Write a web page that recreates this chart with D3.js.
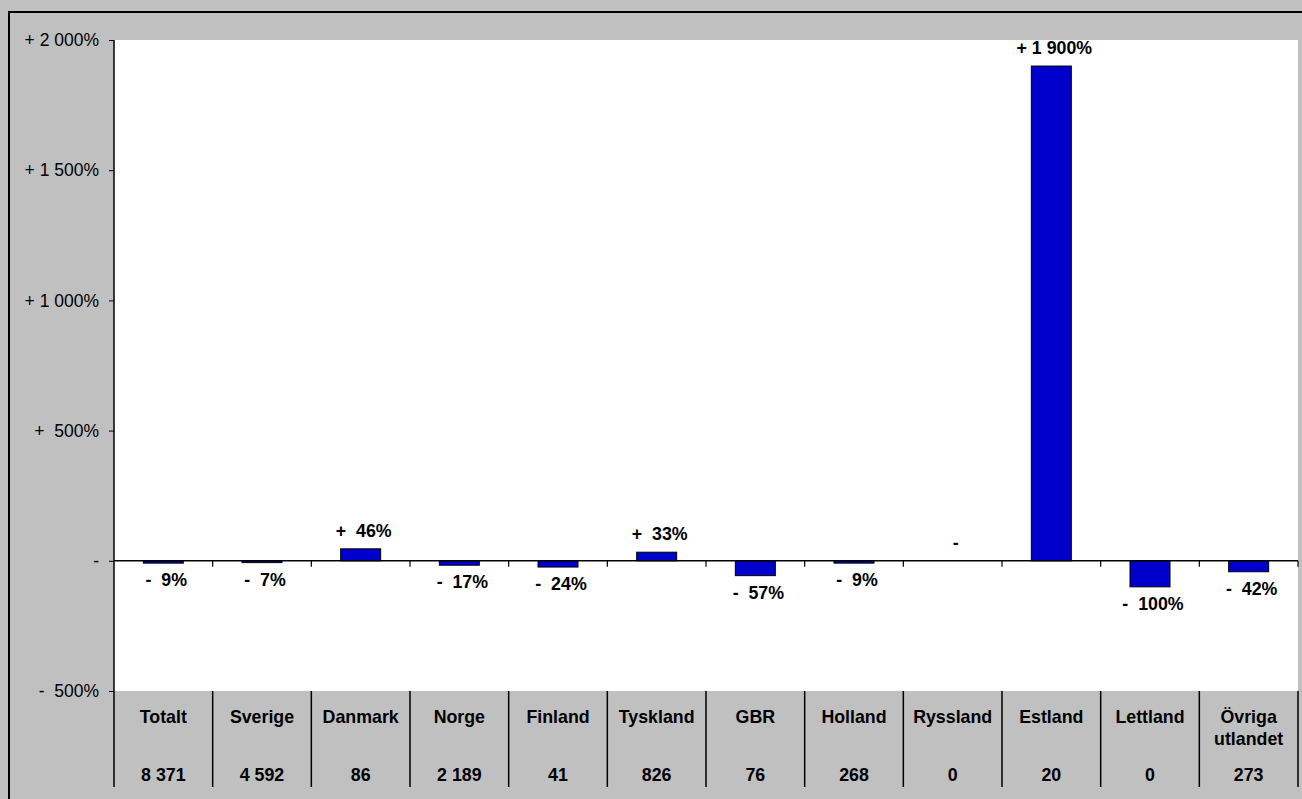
<!DOCTYPE html>
<html>
<head>
<meta charset="utf-8">
<script src="https://cdn.jsdelivr.net/npm/d3@7"></script>
<style>
  html, body { margin: 0; padding: 0; background: #c0c0c0; }
  svg { display: block; }
  text { font-family: Arial, "Liberation Sans", sans-serif; white-space: pre; }
</style>
</head>
<body>
<svg id="chart" width="1302" height="799"></svg>
<script>
// ---- data ----
const categories = ["Totalt", "Sverige", "Danmark", "Norge", "Finland", "Tyskland", "GBR", "Holland", "Ryssland", "Estland", "Lettland", "Övriga utlandet"];
const changePct = [-9, -7, 46, -17, -24, 33, -57, -9, 0, 1900, -100, -42];
const counts = ["8 371", "4 592", "86", "2 189", "41", "826", "76", "268", "0", "20", "0", "273"];
const yTickValues = [-500, 0, 500, 1000, 1500, 2000];
const yTickLabels = ["-  500%", "-", "+  500%", "+ 1 000%", "+ 1 500%", "+ 2 000%"];

// ---- layout ----
const W = 1302, H = 799;
const plot = { left: 114, right: 1298, top: 40, bottom: 691 };
const tableBottom = 787;
const boldSize = 17.8, tickSize = 17.5;

const svg = d3.select("#chart");

svg.append("rect").attr("x", 0).attr("y", 0).attr("width", W).attr("height", H).attr("fill", "#c0c0c0");
// outer frame
svg.append("line").attr("x1", 9).attr("x2", 9).attr("y1", 11).attr("y2", H).attr("stroke", "#000").attr("stroke-width", 2);
svg.append("line").attr("x1", 8).attr("x2", W).attr("y1", 12).attr("y2", 12).attr("stroke", "#000").attr("stroke-width", 2);

// plot area
svg.append("rect").attr("x", plot.left).attr("y", plot.top)
  .attr("width", plot.right - plot.left).attr("height", plot.bottom - plot.top).attr("fill", "#fff");

const x = d3.scaleBand().domain(categories).range([plot.left, plot.right]).padding(0);
const y = d3.scaleLinear().domain([-500, 2000]).range([plot.bottom, plot.top]);
const barW = 40;

// y axis
const yAxis = d3.axisLeft(y)
  .tickValues(yTickValues)
  .tickSize(5)
  .tickPadding(10)
  .tickFormat((d, i) => yTickLabels[i]);
const gy = svg.append("g").attr("transform", `translate(${plot.left},0)`).call(yAxis);
gy.select(".domain").remove();
gy.selectAll(".tick line").attr("stroke", "#000");
gy.selectAll(".tick text").attr("font-size", tickSize).attr("fill", "#000")
  .attr("font-family", "Arial, 'Liberation Sans', sans-serif");

// bars
svg.append("g").selectAll("rect").data(categories).join("rect")
  .attr("x", d => x(d) + x.bandwidth() / 2 - barW / 2)
  .attr("width", barW)
  .attr("y", (d, i) => y(Math.max(0, changePct[i])))
  .attr("height", (d, i) => Math.abs(y(changePct[i]) - y(0)))
  .attr("fill", "#0000cc")
  .attr("stroke", "#000")
  .attr("stroke-width", 1);

// zero line
svg.append("line").attr("x1", plot.left).attr("x2", plot.right)
  .attr("y1", y(0)).attr("y2", y(0)).attr("stroke", "#000").attr("stroke-width", 1.5);

// category boundary positions
const bounds = categories.map(c => x(c)).concat([plot.right]);
// ticks on zero line
svg.append("g").selectAll("line").data(bounds.slice(1)).join("line")
  .attr("x1", d => d).attr("x2", d => d)
  .attr("y1", y(0)).attr("y2", y(0) + 6)
  .attr("stroke", "#000").attr("stroke-width", 1.2);
// table separators
svg.append("g").selectAll("line").data(bounds.slice(1)).join("line")
  .attr("x1", d => d).attr("x2", d => d)
  .attr("y1", plot.bottom).attr("y2", tableBottom)
  .attr("stroke", "#000").attr("stroke-width", 1.5);
// y axis line
svg.append("line").attr("x1", plot.left).attr("x2", plot.left)
  .attr("y1", plot.top).attr("y2", tableBottom).attr("stroke", "#000").attr("stroke-width", 1.5);

// label formatter
function fmt(v) {
  if (v === 0) return "-";
  const a = Math.abs(v);
  const sign = v > 0 ? "+" : "-";
  const num = a >= 1000 ? " " + d3.format(",")(a).replace(/,/g, " ") : "  " + a;
  return sign + num + "%";
}

// bar labels
svg.append("g").selectAll("text").data(categories).join("text")
  .attr("x", d => x(d) + x.bandwidth() / 2 + 3)
  .attr("y", (d, i) => changePct[i] >= 0 ? y(changePct[i]) - 18 + 6 : y(changePct[i]) + 17 + 6)
  .attr("text-anchor", "middle")
  .attr("font-size", boldSize).attr("font-weight", "bold").attr("fill", "#000")
  .text((d, i) => fmt(changePct[i]));

// table: category names
const catText = svg.append("g").selectAll("text").data(categories).join("text")
  .attr("x", d => x(d) + x.bandwidth() / 2)
  .attr("y", 723)
  .attr("text-anchor", "middle")
  .attr("font-size", boldSize).attr("font-weight", "bold").attr("fill", "#000");
catText.each(function(d) {
  const words = d.split(" ");
  const t = d3.select(this);
  words.forEach((w, k) => {
    t.append("tspan").attr("x", x(d) + x.bandwidth() / 2).attr("dy", k === 0 ? 0 : 22).text(w);
  });
});

// table: counts
svg.append("g").selectAll("text").data(categories).join("text")
  .attr("x", d => x(d) + x.bandwidth() / 2)
  .attr("y", 781)
  .attr("text-anchor", "middle")
  .attr("font-size", boldSize).attr("font-weight", "bold").attr("fill", "#000")
  .text((d, i) => counts[i]);
</script>
</body>
</html>
